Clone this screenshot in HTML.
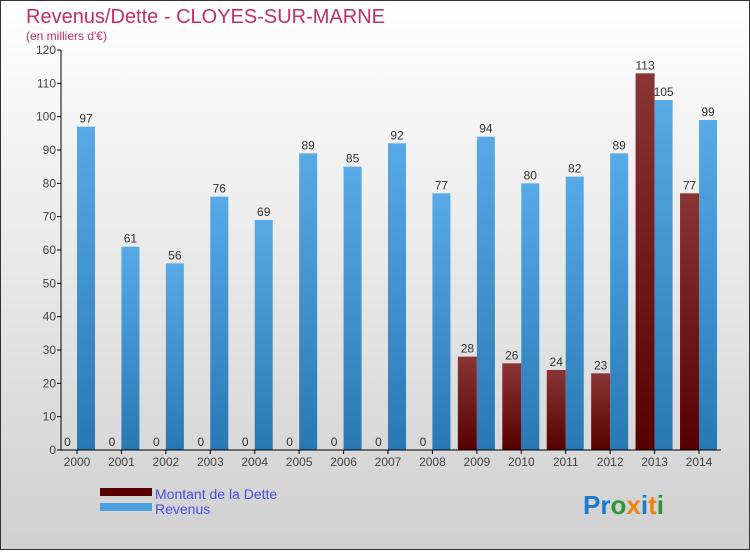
<!DOCTYPE html>
<html><head><meta charset="utf-8"><style>
body{margin:0}
#c{width:750px;height:550px;position:relative;font-family:"Liberation Sans",sans-serif;}
</style></head><body>
<div id="c">
<svg width="750" height="550" id="svg">
<defs>
<linearGradient id="bg" x1="0" y1="0" x2="0" y2="1"><stop offset="0" stop-color="#ffffff"/><stop offset="1" stop-color="#d0d0d0"/></linearGradient>
<linearGradient id="gd" x1="0" y1="0" x2="0" y2="1"><stop offset="0" stop-color="#8a3535"/><stop offset="1" stop-color="#560000"/></linearGradient>
<linearGradient id="gr" x1="0" y1="0" x2="0" y2="1"><stop offset="0" stop-color="#58aae6"/><stop offset="1" stop-color="#2878b4"/></linearGradient>
</defs>
<rect x="0.5" y="0.5" width="749" height="549" fill="url(#bg)" stroke="#333"/>
<text x="26" y="23" font-size="20" fill="#c03060">Revenus/Dette - CLOYES-SUR-MARNE</text>
<text x="26" y="40" font-size="12" fill="#c03060">(en milliers d'€)</text>
<g id="plot"></g>
<rect x="100" y="488" width="52" height="8" fill="#5a0000"/>
<rect x="100" y="503" width="52" height="8" fill="#4aa0e0"/>
<text x="155" y="499" font-size="14" fill="#4a4ae0">Montant de la Dette</text>
<text x="155" y="514" font-size="14" fill="#4a4ae0">Revenus</text>
<text x="583" y="514" font-size="26" font-weight="bold"><tspan fill="#1a7ad0">Pr</tspan><tspan fill="#2a9a30">o</tspan><tspan fill="#f08010">x</tspan><tspan fill="#1a7ad0">i</tspan><tspan fill="#f08010">t</tspan><tspan fill="#2a9a30">i</tspan></text>
</svg>
</div>
<script>
const years=["2000","2001","2002","2003","2004","2005","2006","2007","2008","2009","2010","2011","2012","2013","2014"];
const dette=[0,0,0,0,0,0,0,0,0,28,26,24,23,113,77];
const revenus=[97,61,56,76,69,89,85,92,77,94,80,82,89,105,99];
const ticks=[0,10,20,30,40,50,60,70,80,90,100,110,120];
const NS="http://www.w3.org/2000/svg";
const g=document.getElementById("plot");
const y0=450,yTop=50,xAxis=61,xEnd=721;
function y(v){return y0-v*(y0-yTop)/120;}
function x(i){return 77+i*44.43;}
function mk(t,a,name){const e=document.createElementNS(NS,t);for(const k in a)e.setAttribute(k,a[k]);


g.appendChild(e);return e;}
ticks.forEach(t=>{
 mk("line",{x1:xAxis-4,x2:xAxis,y1:y(t),y2:y(t),stroke:"#000"},"y-tick-"+t);
 const tx=mk("text",{x:xAxis-5,y:y(t)+4,"font-size":"12","text-anchor":"end",fill:"#444"},"y-tick-label-"+t);tx.textContent=t;
});
years.forEach((yr,i)=>{
 const c=x(i);
 const d=dette[i];
 mk("rect",{x:c-19,y:y(d),width:19,height:y0-y(d),fill:"url(#gd)"},"bar-dette-"+yr);
 let t=mk("text",{x:c-9.5,y:y(d)-4,"font-size":"12","text-anchor":"middle",fill:"#333"},"label-dette-"+yr);t.textContent=d;
 const r=revenus[i];
 mk("rect",{x:c,y:y(r),width:18,height:y0-y(r),fill:"url(#gr)"},"bar-revenus-"+yr);
 t=mk("text",{x:c+9,y:y(r)-4,"font-size":"12","text-anchor":"middle",fill:"#333"},"label-revenus-"+yr);t.textContent=r;
 mk("line",{x1:c,x2:c,y1:y0,y2:y0+4,stroke:"#000"},"x-tick-"+yr);
 t=mk("text",{x:c,y:y0+16,"font-size":"12","text-anchor":"middle",fill:"#444"},"x-tick-label-"+yr);t.textContent=yr;
});
mk("line",{x1:xAxis,x2:xAxis,y1:yTop,y2:y0,stroke:"#000"},"y-axis");
mk("line",{x1:xAxis,x2:xEnd,y1:y0,y2:y0,stroke:"#000"},"x-axis");
</script>
</body></html>
